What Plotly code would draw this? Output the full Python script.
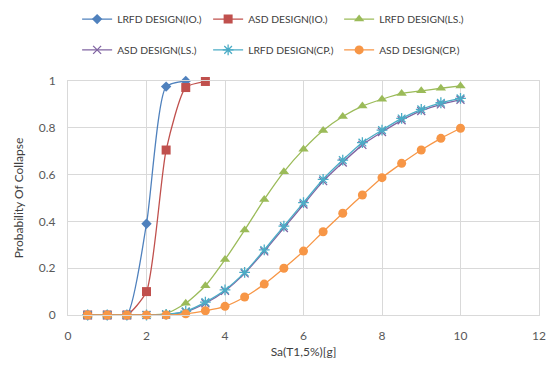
import plotly.graph_objects as go

x_vals = [0.5, 1, 1.5, 2, 2.5, 3, 3.5, 4, 4.5, 5, 5.5, 6, 6.5, 7, 7.5, 8, 8.5, 9, 9.5, 10]

lrfd_io = [0, 0, 0, 0.39, 0.976, 1.0]
asd_io = [0, 0, 0, 0.10, 0.705, 0.972, 0.998]
lrfd_ls = [0, 0, 0, 0, 0.006, 0.05, 0.125, 0.237, 0.363, 0.494, 0.612, 0.708, 0.788, 0.848,
           0.893, 0.922, 0.947, 0.958, 0.969, 0.979]
asd_ls = [0, 0, 0, 0, 0.002, 0.013, 0.05, 0.103, 0.178, 0.272, 0.372, 0.472, 0.572, 0.652,
          0.727, 0.782, 0.832, 0.872, 0.9, 0.92]
lrfd_cp = [0, 0, 0, 0, 0.003, 0.016, 0.055, 0.107, 0.182, 0.278, 0.38, 0.48, 0.58, 0.662,
           0.737, 0.79, 0.84, 0.879, 0.907, 0.926]
asd_cp = [0, 0, 0, 0, 0, 0.005, 0.018, 0.037, 0.077, 0.132, 0.2, 0.273, 0.356, 0.435,
          0.513, 0.587, 0.648, 0.705, 0.755, 0.798]

x_ticks = [0, 2, 4, 6, 8, 10, 12]
y_ticks = [0, 0.2, 0.4, 0.6, 0.8, 1]
y_tick_labels = ["0", "0.2", "0.4", "0.6", "0.8", "1"]

fig = go.Figure()

series = [
    ("LRFD DESIGN(IO.)", lrfd_io, "#4F81BD", dict(symbol="diamond", size=8), "legend"),
    ("ASD DESIGN(IO.)", asd_io, "#C0504D", dict(symbol="square", size=9), "legend"),
    ("LRFD DESIGN(LS.)", lrfd_ls, "#9BBB59", dict(symbol="triangle-up", size=9), "legend"),
    ("ASD DESIGN(LS.)", asd_ls, "#8064A2", dict(symbol="x-thin", size=8, line=dict(width=1.3, color="#8064A2")), "legend2"),
    ("LRFD DESIGN(CP.)", lrfd_cp, "#4BACC6", dict(symbol="asterisk", size=9, line=dict(width=1.3, color="#4BACC6")), "legend2"),
    ("ASD DESIGN(CP.)", asd_cp, "#F79646", dict(symbol="circle", size=9), "legend2"),
]

for name, vals, color, marker, lg in series:
    fig.add_trace(go.Scatter(
        x=x_vals[:len(vals)], y=vals, name=name, mode="lines+markers",
        line=dict(color=color, width=1.3, shape="spline", smoothing=0.6),
        marker=dict(color=color, **marker),
        legend=lg,
        cliponaxis=False,
    ))

legend_common = dict(
    orientation="h", xanchor="left", yanchor="middle",
    xref="container", yref="container",
    font=dict(family="Lato, Open Sans, sans-serif", size=10.3, color="#404040"),
    entrywidth=86, entrywidthmode="pixels", itemwidth=30,
    bgcolor="rgba(0,0,0,0)", tracegroupgap=0,
)

fig.update_layout(
    width=547, height=367,
    margin=dict(l=68, r=8, t=81, b=52, autoexpand=False),
    paper_bgcolor="white", plot_bgcolor="white",
    font=dict(family="Lato, Open Sans, sans-serif", size=11, color="#404040"),
    showlegend=True,
    legend=dict(x=0.141, y=0.948, **legend_common),
    legend2=dict(x=0.141, y=0.864, **legend_common),
    xaxis=dict(
        range=[0, 12], tickvals=x_ticks, showgrid=True, gridcolor="#D9D9D9",
        zeroline=False, showline=True, mirror=True, linecolor="#D9D9D9", automargin=False,
        title=dict(text="Sa(T1,5%)[g]", font=dict(size=12), standoff=5),
        tickfont=dict(size=12, color="#595959"), ticks="", ticklabelstandoff=10,
        ticklabeloverflow="allow",
    ),
    yaxis=dict(
        range=[0, 1.0], tickvals=y_ticks, ticktext=y_tick_labels, showgrid=True,
        gridcolor="#D9D9D9", zeroline=False, showline=True, mirror=True,
        linecolor="#D9D9D9", automargin=False,
        title=dict(text="Probability Of Collapse", font=dict(size=12), standoff=12),
        tickfont=dict(size=12, color="#595959"), ticks="", ticklabelstandoff=9,
        ticklabeloverflow="allow",
    ),
)

fig.write_html("out.html", config={"displayModeBar": False},
               post_script="document.body.style.margin='0';")
